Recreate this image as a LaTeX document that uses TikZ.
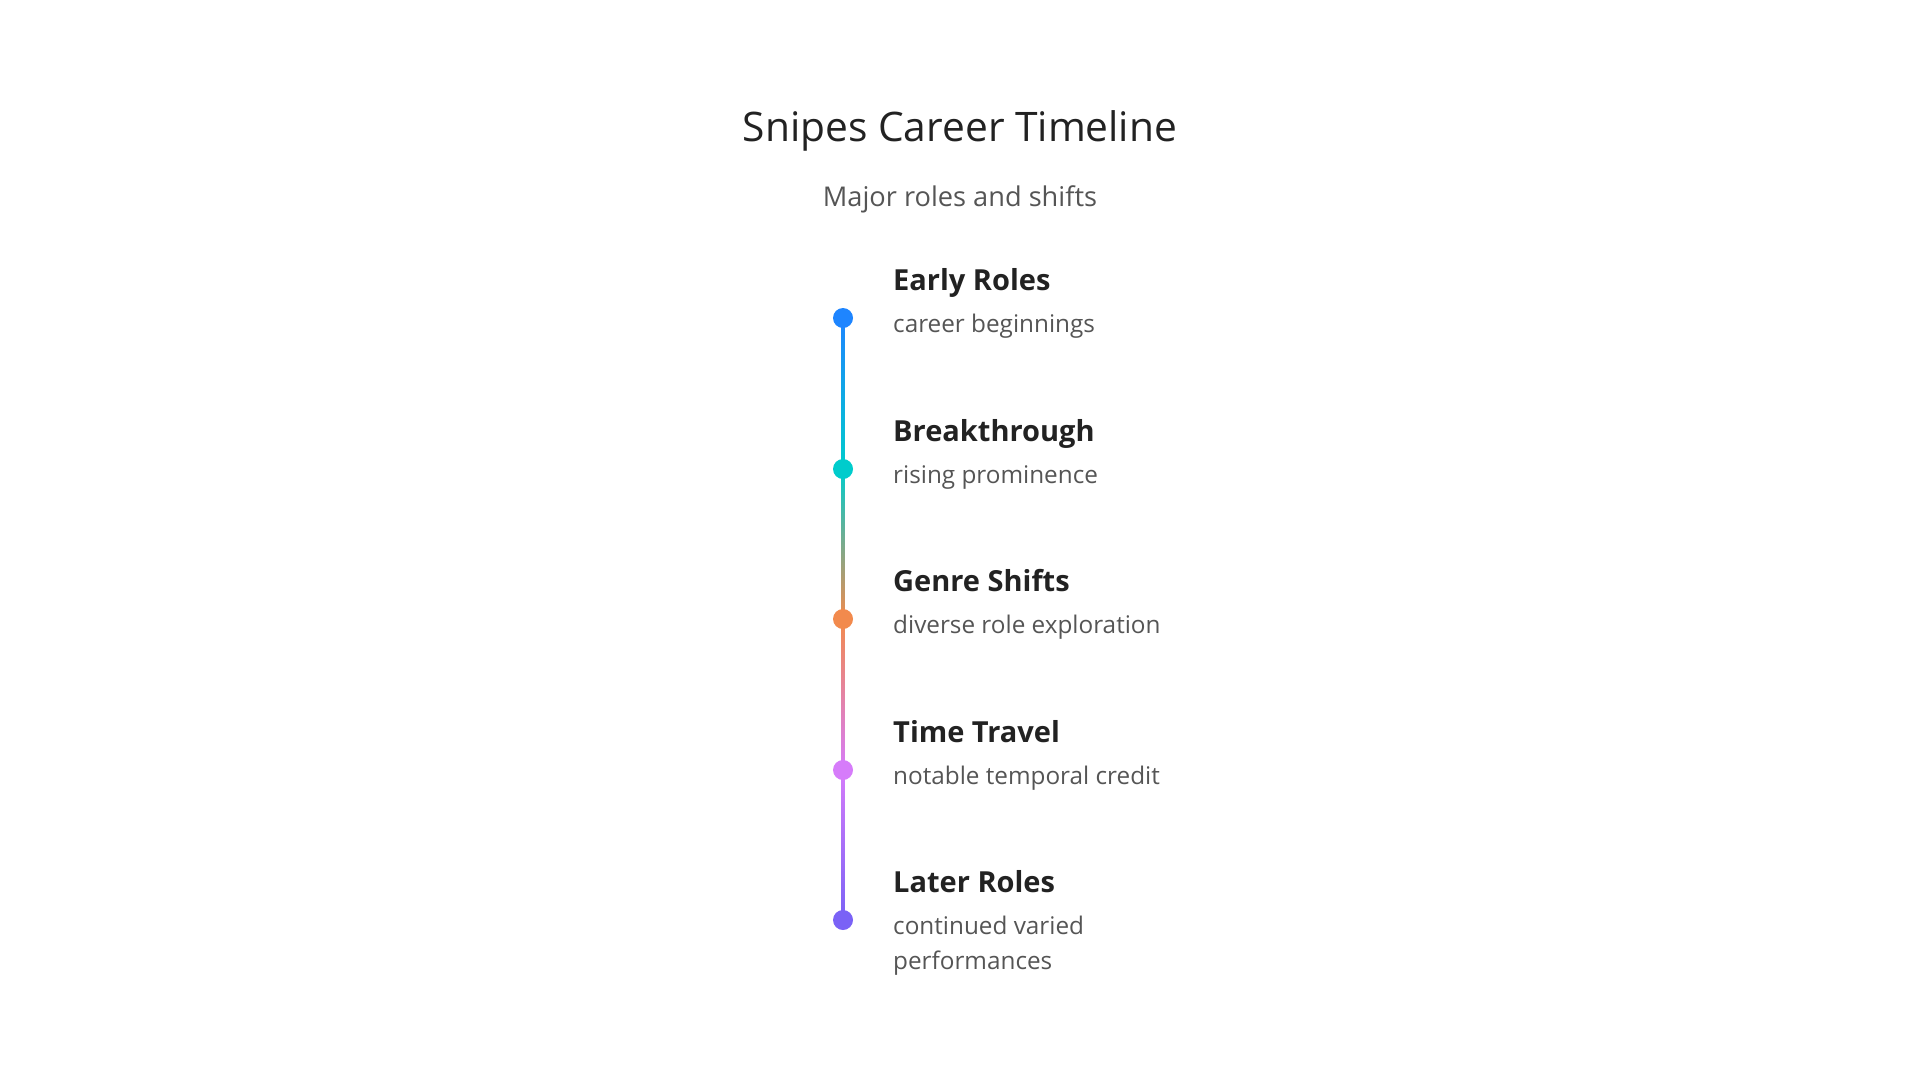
\documentclass[tikz,border=0pt]{standalone}
\usepackage{fontspec}
\setmainfont{Open Sans}
\definecolor{headgray}{HTML}{222222}
\definecolor{notegray}{HTML}{555555}
\definecolor{dotblue}{HTML}{1E85FF}
\definecolor{dotteal}{HTML}{00CCCC}
\definecolor{dotorange}{HTML}{F28A4D}
\definecolor{dotviolet}{HTML}{D67CFA}
\definecolor{dotpurple}{HTML}{7A62F6}
\pgfdeclarelayer{background}
\pgfsetlayers{background,main}
\begin{document}
\begin{tikzpicture}[x=1pt,y=-1pt,
    dot/.style={circle,inner sep=0pt,minimum size=20pt},
    heading/.style={anchor=base west,inner sep=0pt,text=headgray,
        font=\bfseries\fontsize{29}{34}\selectfont},
    note/.style={anchor=base west,inner sep=0pt,text=notegray,
        font=\fontsize{24.3}{34.5}\selectfont}]
    \useasboundingbox (0,0) rectangle (1920,1080);

    \node[anchor=base,inner sep=0pt,text=headgray,font=\fontsize{40.7}{48}\selectfont]
        (title) at (960,141.5) {Snipes Career Timeline};
    \node[anchor=base,inner sep=0pt,text=notegray,font=\fontsize{27.2}{32}\selectfont]
        (subtitle) at (960,206) {Major roles and shifts};

    % stages
    \foreach \y/\c/\h/\n [count=\i] in {
            318/dotblue/Early Roles/career beginnings,
            469/dotteal/Breakthrough/rising prominence,
            619/dotorange/Genre Shifts/diverse role exploration,
            770/dotviolet/Time Travel/notable temporal credit,
            920/dotpurple/Later Roles/continued varied\\performances} {
        \node[dot,fill=\c] (dot\i) at (843,\y) {};
        \node[heading] (head\i) at (893,\y-27.5) {\h};
        \node[note] (note\i) at (893,\y+14.5)
            {\begin{tabular}[t]{@{}l@{}}\n\end{tabular}};
    }

    % gradient line
    \begin{pgfonlayer}{background}
        \foreach \a/\b/\ca/\cb in {1/2/dotblue/dotteal,2/3/dotteal/dotorange,
                3/4/dotorange/dotviolet,4/5/dotviolet/dotpurple}
            \shade[top color=\ca,bottom color=\cb]
                ([xshift=-1.5pt]dot\a.center) rectangle ([xshift=1.5pt]dot\b.center);
    \end{pgfonlayer}
\end{tikzpicture}
\end{document}
